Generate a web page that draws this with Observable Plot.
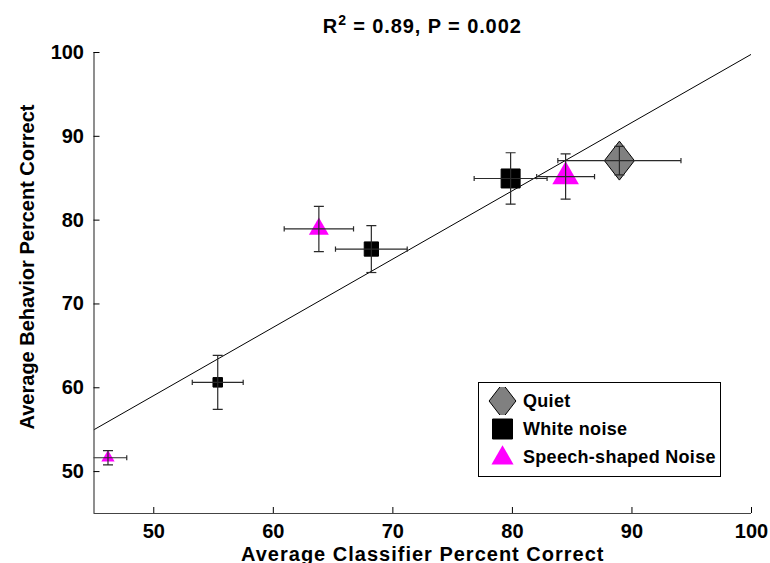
<!DOCTYPE html>
<html><head><meta charset="utf-8">
<script src="https://cdn.jsdelivr.net/npm/d3@7"></script>
<script src="https://cdn.jsdelivr.net/npm/@observablehq/plot@0.6"></script>
<style>
body{margin:0;background:#fff;}
#wrap{position:relative;width:770px;height:563px;font-family:"Liberation Sans",Arial,Helvetica,sans-serif;}
#legend{position:absolute;left:478px;top:382px;width:243px;height:95px;border:1px solid #000;background:#fff;box-sizing:border-box;}
.row{position:absolute;left:0;height:28px;display:flex;align-items:center;font-weight:bold;font-size:18px;letter-spacing:0.3px;color:#000;white-space:nowrap;}
.row svg{display:block;}
</style></head><body><div id="wrap"></div>
<script>
// ---- data ----
const conditions = ["Quiet", "White noise", "Speech-shaped Noise"];
const quietX = [88.95], quietXErr = [5.15], quietY = [87.1], quietYErr = [1.7], quietLevel = [3];
const whiteX = [55.35, 68.2, 79.85], whiteXErr = [2.13, 3.0, 3.05];
const whiteY = [60.65, 76.55, 84.97], whiteYErr = [3.22, 2.8, 3.07], whiteLevel = [1, 2, 3];
const speechX = [46.17, 63.81, 84.45], speechXErr = [1.57, 2.9, 2.42];
const speechY = [51.65, 78.95, 85.2], speechYErr = [0.85, 2.7, 2.7], speechLevel = [1, 2, 3];
const fitX = [45, 100], fitY = [55.0, 99.8];
const xTicks = [50, 60, 70, 80, 90, 100], yTicks = [50, 60, 70, 80, 90, 100];
const titleParts = ["R", "2", " = 0.89, P = 0.002"];
const xLabel = "Average Classifier Percent Correct";
const yLabel = "Average Behavior Percent Correct";

// ---- symbols ----
const rad = (size) => Math.sqrt(size / Math.PI);
const symSquare = {draw(c, s){const r = rad(s); c.moveTo(-r,-r); c.lineTo(r,-r); c.lineTo(r,r); c.lineTo(-r,r); c.closePath();}};
const symTri = {draw(c, s){const r = rad(s)*1.4, h = r*Math.sqrt(3); c.moveTo(0,-2*h/3); c.lineTo(r,h/3); c.lineTo(-r,h/3); c.closePath();}};
const symDia = {draw(c, s){const r = rad(s), w = r*1.58, h = r*2.05; c.moveTo(0,-h); c.lineTo(w,0); c.lineTo(0,h); c.lineTo(-w,0); c.closePath();}};
const capH = {draw(c, s){const r = rad(s); c.moveTo(-r,0); c.lineTo(r,0);}};
const capV = {draw(c, s){const r = rad(s); c.moveTo(0,-r); c.lineTo(0,r);}};

const rows = (X, XE, Y, YE, L) => X.map((x, i) => ({x, xe: XE[i], y: Y[i], ye: YE[i], level: L[i]}));
const quiet = rows(quietX, quietXErr, quietY, quietYErr, quietLevel);
const white = rows(whiteX, whiteXErr, whiteY, whiteYErr, whiteLevel);
const speech = rows(speechX, speechXErr, speechY, speechYErr, speechLevel);
const fit = fitX.map((x, i) => ({x, y: fitY[i]}));

const errColor = "#2a2a2a";
function errorBars(d) {
  return [
    Plot.link(d, {x1: a => a.x - a.xe, x2: a => a.x + a.xe, y1: "y", y2: "y", stroke: errColor, strokeWidth: 1.2, clip: true}),
    Plot.link(d, {x1: "x", x2: "x", y1: a => a.y - a.ye, y2: a => a.y + a.ye, stroke: errColor, strokeWidth: 1.2, clip: true}),
    Plot.dot(d, {x: a => a.x - a.xe, y: "y", symbol: capV, r: 2.6, stroke: errColor, fill: "none", strokeWidth: 1.2, clip: true}),
    Plot.dot(d, {x: a => a.x + a.xe, y: "y", symbol: capV, r: 2.6, stroke: errColor, fill: "none", strokeWidth: 1.2, clip: true}),
    Plot.dot(d, {x: "x", y: a => a.y - a.ye, symbol: capH, r: 5, stroke: errColor, fill: "none", strokeWidth: 1.2, clip: true}),
    Plot.dot(d, {x: "x", y: a => a.y + a.ye, symbol: capH, r: 5, stroke: errColor, fill: "none", strokeWidth: 1.2, clip: true})
  ];
}

const W = 770, H = 563, mL = 93.5, mR = 19, mT = 52, mB = 50;
const chart = Plot.plot({
  width: W, height: H,
  marginLeft: mL, marginRight: mR, marginTop: mT, marginBottom: mB,
  style: {fontFamily: '"Liberation Sans", Arial, Helvetica, sans-serif', fontSize: "20px", fontWeight: "bold", color: "#000", background: "#fff"},
  x: {domain: [45, 100]},
  y: {domain: [45, 100]},
  r: {type: "linear", domain: [1, 3], range: [4.75, 9.5]},
  marks: [
    Plot.line(fit, {x: "x", y: "y", stroke: "#000", strokeWidth: 1, clip: true}),
    Plot.dot(quiet, {x: "x", y: "y", r: "level", symbol: symDia, fill: "#808080", stroke: "#000", strokeWidth: 1}),
    Plot.dot(white, {x: "x", y: "y", r: "level", symbol: symSquare, fill: "#000", stroke: "#000", strokeWidth: 1}),
    Plot.dot(speech, {x: "x", y: "y", r: "level", symbol: symTri, fill: "#ff00ff", stroke: "none"}),
    ...errorBars(quiet), ...errorBars(white), ...errorBars(speech),
    Plot.ruleX([45], {stroke: "#444", strokeWidth: 1.2}),
    Plot.ruleY([45], {stroke: "#444", strokeWidth: 1.2}),
    Plot.axisX({ticks: xTicks, tickSize: -6, tickPadding: 16, label: null, tickFormat: d => String(d)}),
    Plot.axisY({ticks: yTicks, tickSize: -6, tickPadding: 16, label: null, tickFormat: d => String(d)}),
    Plot.text([xLabel], {text: d => d, frameAnchor: "bottom", lineAnchor: "bottom", textAnchor: "middle", dy: 47, fontSize: 20, fontWeight: "bold"}),
    Plot.text([yLabel], {text: d => d, frameAnchor: "left", lineAnchor: "bottom", textAnchor: "middle", rotate: -90, dx: -60, dy: -16, fontSize: 20, fontWeight: "bold"})
  ]
});
document.getElementById("wrap").appendChild(chart);

const svg = d3.select(chart);
svg.selectAll("text").filter(function () { return this.textContent === xLabel; }).style("letter-spacing", "1px");

// title with superscript
const title = svg.append("text")
  .attr("x", (mL + W - mR) / 2).attr("y", 33)
  .attr("text-anchor", "middle")
  .style("font-size", "20px").style("font-weight", "bold").style("letter-spacing", "0.9px").attr("fill", "#000");
title.append("tspan").text(titleParts[0]);
title.append("tspan").attr("dy", -8).style("font-size", "14px").text(titleParts[1]);
title.append("tspan").attr("dy", 8).text(titleParts[2]);

// legend
const legendSyms = [
  {sym: symDia, r: 8.5, fill: "#808080", stroke: "#000"},
  {sym: symSquare, r: 10, fill: "#000", stroke: "#000"},
  {sym: symTri, r: 7.9, fill: "#ff00ff", stroke: "none"}
];
const legend = d3.select("#wrap").append("div").attr("id", "legend");
conditions.forEach((name, i) => {
  const row = legend.append("div").attr("class", "row").style("top", (4 + i * 28.4) + "px");
  const s = row.append("svg").attr("width", 44).attr("height", 28);
  const L = legendSyms[i];
  s.append("path")
    .attr("d", d3.symbol(L.sym, L.r * L.r * Math.PI)())
    .attr("transform", "translate(23.5,14)")
    .attr("fill", L.fill).attr("stroke", L.stroke);
  row.append("span").text(name);
});
</script>
</body></html>
